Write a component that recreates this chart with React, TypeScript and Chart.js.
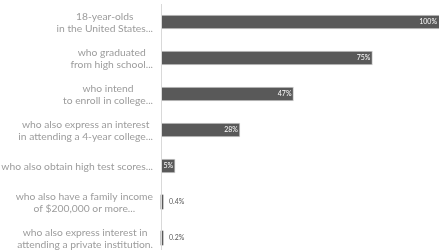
import React, { useEffect, useRef } from "react";
import { Chart, registerables } from "chart.js";

Chart.register(...registerables);

const categories: string[][] = [
  ["18-year-olds", "in the United States..."],
  ["who graduated", "from high school..."],
  ["who intend", "to enroll in college..."],
  ["who also express an interest", "in attending a 4-year college..."],
  ["who also obtain high test scores..."],
  ["who also have a family income", "of $200,000 or more..."],
  ["who also express interest in", "attending a private institution."],
];
const values: number[] = [100, 75, 47, 28, 5, 0.4, 0.2];
const valueLabels: string[] = ["100%", "75%", "47%", "28%", "5%", "0.4%", "0.2%"];

const FONT = "Lato, 'Open Sans', sans-serif";

const customPlugin = {
  id: "custom",
  afterDatasetsDraw(chart: any) {
    const ctx = chart.ctx;
    const area = chart.chartArea;
    const yScale = chart.scales.y;
    ctx.save();
    // axis line
    ctx.strokeStyle = "#d9d9d9";
    ctx.lineWidth = 1;
    ctx.beginPath();
    ctx.moveTo(area.left + 0.5, 4);
    ctx.lineTo(area.left + 0.5, chart.height);
    ctx.stroke();
    // category labels
    ctx.font = `10.3px ${FONT}`;
    ctx.fillStyle = "#9c9c9c";
    ctx.textAlign = "center";
    ctx.textBaseline = "middle";
    const lineH = 12.5;
    const right = area.left - 8;
    categories.forEach((lines, i) => {
      const cy = yScale.getPixelForValue(i) + 0.5;
      const w = Math.max(...lines.map((l) => ctx.measureText(l).width));
      const cx = right - w / 2;
      const top = cy - ((lines.length - 1) * lineH) / 2;
      lines.forEach((l, j) => ctx.fillText(l, cx, top + j * lineH));
    });
    // value labels
    const meta = chart.getDatasetMeta(0);
    ctx.font = `7px ${FONT}`;
    ctx.textBaseline = "middle";
    meta.data.forEach((bar: any, i: number) => {
      const end = Math.min(bar.x, area.right);
      if (values[i] >= 5) {
        ctx.fillStyle = "#ffffff";
        ctx.textAlign = "right";
        ctx.fillText(valueLabels[i], end - 2, bar.y);
      } else {
        ctx.fillStyle = "#595959";
        ctx.textAlign = "left";
        ctx.fillText(valueLabels[i], end + 6, bar.y);
      }
    });
    ctx.restore();
  },
};

export default function App() {
  const ref = useRef<HTMLCanvasElement | null>(null);
  useEffect(() => {
    document.body.style.margin = "0";
    const chart = new Chart(ref.current as HTMLCanvasElement, {
      type: "bar",
      data: {
        labels: categories.map((c) => c.join(" ")),
        datasets: [
          {
            data: values,
            backgroundColor: "#595959",
            borderColor: "#cfcfcf",
            borderWidth: [1, 1, 1, 1, 1, 0, 0],
            barThickness: 14,
            minBarLength: 2,
            clip: false,
          },
        ],
      },
      options: {
        indexAxis: "y",
        animation: false,
        responsive: false,
        layout: { padding: { left: 161, top: 22, bottom: 12, right: 0 } },
        scales: {
          x: { display: false, min: 0, max: 98.6 },
          y: { display: false, offset: false },
        },
        plugins: { legend: { display: false }, tooltip: { enabled: false } },
      },
      plugins: [customPlugin],
    });
    return () => chart.destroy();
  }, []);
  return (
    <div style={{ width: 439, height: 250 }}>
      <canvas ref={ref} width={439} height={250} />
    </div>
  );
}
